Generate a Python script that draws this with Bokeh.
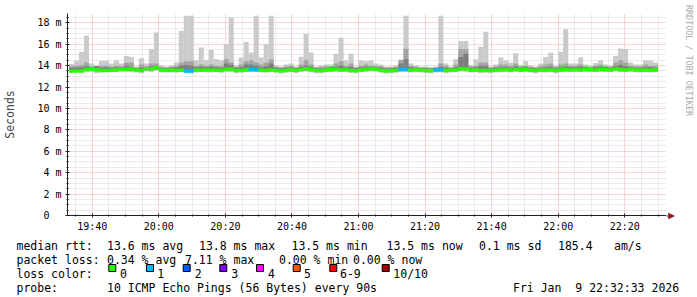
import math
from datetime import datetime, timedelta
from bokeh.plotting import figure
from bokeh.layouts import column, row
from bokeh.core.properties import value
from bokeh.models import (FixedTicker, CustomJSTickFormatter, DatetimeTickFormatter, Range1d,
                          ColumnDataSource)
from bokeh.embed import file_html
from bokeh.resources import INLINE

FONT = "DejaVu Sans Mono"

# ---------------- data ----------------
first_bar = datetime(2026, 1, 9, 19, 33, 0)
step_seconds = 90
view_start = datetime(2026, 1, 9, 19, 32, 33)
view_end = datetime(2026, 1, 9, 22, 32, 33)

# highest ping of each step (ms)
ping_max = [14.15, 14.46, 15.3, 16.8, 14.2, 14.0, 14.46, 14.46, 14.2, 14.5,
            14.2, 14.9, 14.8, 13.9, 14.7, 14.2, 15.55, 17.1, 14.0, 13.9,
            14.0, 14.3, 17.25, 18.66, 18.66, 14.5, 15.7, 14.5, 15.45, 14.6,
            14.5, 16.0, 18.5, 14.0, 14.77, 16.2, 15.23, 18.66, 14.77, 16.0,
            18.66, 14.0, 13.9, 14.1, 14.2, 13.9, 14.83, 16.95, 15.23, 13.9,
            14.0, 14.1, 14.1, 15.1, 16.6, 14.5, 15.1, 13.9, 14.5, 14.4,
            14.5, 14.2, 14.1, 13.9, 13.9, 14.0, 14.5, 18.66, 14.2, 14.0,
            13.9, 13.9, 13.85, 13.9, 18.66, 14.2, 13.9, 14.6, 16.3, 16.3,
            14.05, 14.6, 15.77, 17.16, 13.9, 14.1, 14.77, 14.5, 14.3, 15.15,
            14.05, 14.4, 14.0, 13.9, 14.2, 14.8, 15.2, 14.0, 15.3, 17.4,
            14.2, 14.2, 14.77, 14.1, 14.0, 14.25, 14.5, 14.1, 14.0, 14.9,
            15.6, 15.55, 14.3, 14.1, 14.1, 14.5, 14.5, 14.3]
# 2nd highest ping
ping_9 = [13.95, 14.0, 14.05, 14.3, 13.95, 13.95, 14.0, 14.0, 13.9, 14.0,
          13.95, 14.3, 14.3, 13.85, 14.1, 13.95, 14.2, 14.2, 13.9, 13.85,
          13.9, 14.0, 14.3, 14.4, 14.4, 14.0, 14.1, 14.0, 14.1, 14.0,
          14.0, 14.6, 14.3, 13.9, 14.1, 14.4, 14.5, 14.3, 14.1, 14.3,
          14.6, 13.9, 13.85, 13.95, 14.0, 13.85, 14.1, 14.5, 14.1, 13.85,
          13.9, 13.95, 13.95, 14.2, 14.4, 14.0, 14.2, 13.85, 14.0, 14.1,
          14.0, 14.0, 13.95, 13.85, 13.85, 13.9, 14.55, 15.58, 14.0, 13.9,
          13.85, 13.85, 13.8, 13.85, 14.2, 14.0, 13.85, 14.1, 15.55, 15.55,
          13.95, 14.0, 14.3, 14.3, 13.85, 13.95, 14.1, 14.1, 14.0, 14.2,
          13.95, 14.0, 13.9, 13.85, 13.95, 14.1, 14.2, 13.9, 14.1, 14.2,
          14.0, 14.0, 14.1, 13.95, 13.9, 14.0, 14.1, 13.95, 13.9, 14.3,
          14.5, 14.3, 14.0, 13.95, 13.95, 14.1, 14.0, 14.0]
# 3rd highest ping
ping_8 = [13.8, 13.8, 13.85, 13.95, 13.8, 13.95, 13.8, 13.85, 13.8, 13.85,
          13.85, 14.0, 13.9, 13.78, 13.8, 13.85, 13.95, 14.0, 13.8, 13.75,
          13.8, 13.85, 14.0, 14.05, 14.0, 13.85, 13.9, 13.85, 13.9, 13.85,
          13.8, 14.2, 14.05, 13.78, 13.85, 14.1, 14.1, 14.0, 13.85, 13.95,
          14.2, 13.8, 13.75, 13.8, 13.85, 13.75, 13.9, 14.0, 13.9, 13.75,
          13.75, 13.8, 13.85, 13.9, 14.0, 13.85, 13.9, 13.75, 13.85, 13.9,
          13.9, 13.85, 13.8, 13.72, 13.75, 13.78, 14.2, 14.6, 13.85, 13.8,
          13.75, 13.75, 13.7, 13.78, 13.9, 13.8, 13.75, 13.85, 14.8, 15.1,
          13.8, 13.85, 14.0, 14.0, 13.75, 13.8, 13.85, 13.85, 13.8, 13.95,
          13.8, 13.85, 13.8, 13.75, 13.8, 13.85, 13.9, 13.75, 13.85, 13.9,
          13.85, 13.85, 13.9, 13.85, 13.8, 13.85, 13.9, 13.85, 13.8, 13.95,
          14.05, 13.95, 13.85, 13.8, 13.8, 13.85, 13.85, 13.8]
# lowest ping
ping_min = [13.35, 13.4, 13.35, 13.4, 13.45, 13.3, 13.35, 13.4, 13.38, 13.4,
            13.42, 13.4, 13.38, 13.35, 13.3, 13.45, 13.4, 13.5, 13.35, 13.4,
            13.35, 13.38, 13.4, 13.3, 13.3, 13.35, 13.4, 13.38, 13.35, 13.4,
            13.35, 13.42, 13.4, 13.3, 13.35, 13.4, 13.42, 13.4, 13.35, 13.38,
            13.4, 13.35, 13.3, 13.35, 13.4, 13.32, 13.4, 13.45, 13.38, 13.3,
            13.32, 13.38, 13.4, 13.42, 13.38, 13.4, 13.32, 13.3, 13.38, 13.42,
            13.45, 13.42, 13.35, 13.3, 13.32, 13.35, 13.4, 13.4, 13.35, 13.38,
            13.35, 13.32, 13.3, 13.35, 13.38, 13.32, 13.35, 13.38, 13.45, 13.42,
            13.35, 13.38, 13.32, 13.35, 13.3, 13.35, 13.38, 13.4, 13.35, 13.42,
            13.38, 13.4, 13.35, 13.3, 13.38, 13.35, 13.38, 13.3, 13.38, 13.4,
            13.38, 13.4, 13.38, 13.42, 13.4, 13.38, 13.42, 13.4, 13.38, 13.45,
            13.4, 13.38, 13.42, 13.38, 13.35, 13.38, 13.35, 13.38]
# 2nd lowest ping
ping_2 = [13.45, 13.45, 13.42, 13.5, 13.5, 13.45, 13.42, 13.48, 13.45, 13.48,
          13.5, 13.52, 13.5, 13.45, 13.42, 13.55, 13.52, 13.6, 13.45, 13.45,
          13.45, 13.45, 13.48, 13.4, 13.4, 13.45, 13.48, 13.48, 13.45, 13.45,
          13.45, 13.5, 13.5, 13.42, 13.45, 13.48, 13.5, 13.48, 13.45, 13.45,
          13.48, 13.45, 13.4, 13.45, 13.48, 13.42, 13.5, 13.55, 13.48, 13.42,
          13.42, 13.45, 13.48, 13.5, 13.48, 13.5, 13.42, 13.4, 13.45, 13.5,
          13.55, 13.5, 13.42, 13.4, 13.42, 13.45, 13.5, 13.5, 13.45, 13.48,
          13.45, 13.42, 13.4, 13.45, 13.48, 13.42, 13.45, 13.48, 13.55, 13.52,
          13.45, 13.48, 13.42, 13.45, 13.42, 13.45, 13.48, 13.5, 13.45, 13.5,
          13.48, 13.5, 13.45, 13.42, 13.48, 13.45, 13.48, 13.42, 13.48, 13.5,
          13.48, 13.5, 13.48, 13.52, 13.5, 13.48, 13.52, 13.5, 13.48, 13.55,
          13.5, 13.48, 13.52, 13.48, 13.45, 13.48, 13.45, 13.48]
# median rtt
median_rtt = [13.5, 13.5, 13.5, 13.65, 13.65, 13.62, 13.55, 13.55, 13.58, 13.6,
              13.66, 13.68, 13.68, 13.6, 13.55, 13.72, 13.72, 13.82, 13.6, 13.55,
              13.6, 13.55, 13.58, 13.5, 13.5, 13.58, 13.58, 13.6, 13.6, 13.58,
              13.55, 13.65, 13.66, 13.55, 13.55, 13.6, 13.62, 13.62, 13.58, 13.55,
              13.6, 13.55, 13.5, 13.55, 13.6, 13.55, 13.65, 13.72, 13.62, 13.55,
              13.52, 13.6, 13.62, 13.65, 13.6, 13.62, 13.55, 13.52, 13.6, 13.65,
              13.7, 13.66, 13.55, 13.5, 13.52, 13.55, 13.65, 13.65, 13.58, 13.62,
              13.6, 13.55, 13.52, 13.6, 13.62, 13.55, 13.58, 13.6, 13.7, 13.68,
              13.58, 13.6, 13.55, 13.55, 13.55, 13.58, 13.6, 13.62, 13.58, 13.65,
              13.6, 13.62, 13.58, 13.55, 13.6, 13.58, 13.6, 13.55, 13.6, 13.62,
              13.6, 13.62, 13.6, 13.65, 13.62, 13.6, 13.65, 13.62, 13.6, 13.68,
              13.62, 13.6, 13.65, 13.6, 13.58, 13.6, 13.58, 13.6]
# lost pings per step (of 10)
lost_pings = [0] * 23 + [1, 1] + [0] * 11 + [1, 1] + [0] * 28 + [1, 1] + [0] * 5 + [1, 1] + [0] * 43

y_ticks = [0, 2, 4, 6, 8, 10, 12, 14, 16, 18]
x_tick_labels = ["19:40", "20:00", "20:20", "20:40", "21:00", "21:20", "21:40", "22:00", "22:20"]

loss_labels = ["0", "1", "2", "3", "4", "5", "6-9", "10/10"]
loss_colors = ["#26ff00", "#00b8ff", "#0059ff", "#7e00ff", "#ff00ff", "#ff5500", "#ff0000", "#a10000"]

rtt_avg, rtt_max, rtt_min, rtt_now, rtt_sd, am_s = "13.6", "13.8", "13.5", "13.5", "0.1", "185.4"
loss_avg, loss_max, loss_min, loss_now = "0.34", "7.11", "0.00", "0.00"
probe_text = "10 ICMP Echo Pings (56 Bytes) every 90s"
stamp_text = "Fri Jan\u00a0 9 22:32:33 2026"
watermark = "RRDTOOL / TOBI OETIKER"

# ---------------- helpers ----------------
EPOCH = datetime(1970, 1, 1)


def ms(dt):
    return (dt - EPOCH).total_seconds() * 1000.0


def blank(w, h, xr, yr):
    f = figure(width=w, height=h, output_backend="svg", toolbar_location=None,
               x_range=Range1d(*xr), y_range=Range1d(*yr), min_border=0,
               x_axis_location=None, y_axis_location=None)
    f.outline_line_color = None
    f.grid.visible = False
    f.background_fill_color = "white"
    f.border_fill_color = "white"
    return f


n = len(median_rtt)
left = [ms(first_bar + timedelta(seconds=step_seconds * i)) for i in range(n)]
right = [ms(first_bar + timedelta(seconds=step_seconds * (i + 1))) for i in range(n)]
loss_col = [loss_colors[k] if k < 6 else (loss_colors[6] if k < 10 else loss_colors[7]) for k in lost_pings]

src = ColumnDataSource(dict(left=left, right=right, p1=ping_min, p2=ping_2, p8=ping_8,
                            p9=ping_9, p10=ping_max, med=median_rtt, col=loss_col))

W, H = 697, 297
MAIN_W, MAIN_H = 666, 235  # main chart (frame + left axis + x labels)
FL, FT, FB = 66, 13, 20
AXIS = "#202020"
ARROW = "#8b1a1a"

p = figure(width=MAIN_W, height=MAIN_H, output_backend="svg", toolbar_location=None,
           x_axis_type="datetime",
           x_range=Range1d(ms(view_start), ms(view_end)),
           y_range=Range1d(0, 18.87),
           min_border_left=FL, min_border_right=0, min_border_top=FT, min_border_bottom=FB)
p.outline_line_color = None
p.background_fill_color = "white"
p.border_fill_color = "white"

# smoke
p.quad(left="left", right="right", bottom="p1", top="p10", source=src, fill_color="#cacaca", line_color=None)
p.quad(left="left", right="right", bottom="p2", top="p9", source=src, fill_color="#a4a4a4", line_color=None)
p.quad(left="left", right="right", bottom="med", top="p8", source=src, fill_color="#7e7e7e", line_color=None)
# median line coloured by loss
p.segment(x0="left", x1="right", y0="med", y1="med", source=src, line_color="col", line_width=3.5, line_cap="butt")

# ---- axes / ticks ----
day = datetime(2026, 1, 9)
major_x = [ms(day + timedelta(hours=int(s[:2]), minutes=int(s[3:]))) for s in x_tick_labels]
minor_x = [ms(view_start.replace(second=0, minute=35) + timedelta(minutes=5 * k)) for k in range(36)]
minor_x = [t for t in minor_x if t not in major_x]
p.xaxis.ticker = FixedTicker(ticks=major_x, minor_ticks=minor_x)
p.xaxis.formatter = DatetimeTickFormatter(minutes="%H:%M", hourmin="%H:%M", hours="%H:%M", minsec="%H:%M")

minor_y = [k * 0.5 for k in range(38) if (k * 0.5) % 2 != 0]
p.yaxis.ticker = FixedTicker(ticks=y_ticks, minor_ticks=minor_y)
p.yaxis.formatter = CustomJSTickFormatter(code="return tick == 0 ? '0\\u00a0\\u00a0' : tick + ' m';")
p.yaxis.axis_label = "Seconds"

for ax in (p.xaxis[0], p.yaxis[0]):
    ax.axis_line_color = AXIS
    ax.major_tick_line_color = AXIS
    ax.minor_tick_line_color = AXIS
    ax.major_tick_in = 2
    ax.major_tick_out = 2
    ax.minor_tick_in = 1
    ax.minor_tick_out = 1
    ax.major_label_text_font = FONT
    ax.major_label_text_font_size = "10px"
    ax.major_label_text_color = "#000000"
p.xaxis.major_label_standoff = 3
p.yaxis.major_label_standoff = 4
p.yaxis.axis_label_text_font = FONT
p.yaxis.axis_label_text_font_size = "11.5px"
p.yaxis.axis_label_text_font_style = "normal"
p.yaxis.axis_label_standoff = 17

for g in (p.xgrid[0], p.ygrid[0]):
    g.grid_line_color = "#eeaaaa"
    g.grid_line_dash = "1 1"
    g.grid_line_width = 1
    g.minor_grid_line_color = "#d6d6d6"
    g.minor_grid_line_dash = "1 1"
    g.minor_grid_line_width = 1

# ---- strip to the right: x-axis arrow + watermark ----
side_w = W - MAIN_W
side = blank(side_w, MAIN_H, (MAIN_W, W), (MAIN_H, 0))
axis_y = MAIN_H - FB + 0.5
side.segment(x0=[MAIN_W], x1=[MAIN_W + 2.5], y0=[axis_y], y1=[axis_y], line_color=AXIS, line_width=1)
side.patch(x=[MAIN_W + 2, MAIN_W + 2, MAIN_W + 8], y=[axis_y - 3, axis_y + 3, axis_y],
           fill_color=ARROW, line_color=ARROW, line_width=0.5)
side.text(x=[688], y=[60], text=[watermark], angle=-math.pi / 2, text_font=value(FONT),
          text_font_size=value("8.4px"), text_color="#aaaaaa", text_align="center", text_baseline="middle")

# ---- legend area below ----
lg = blank(W, H - MAIN_H, (0, W), (H, MAIN_H))

L1, L2, L3, L4 = 245, 259.3, 273, 287
items = [(16, L1, "median rtt:"), (106.5, L1, f"{rtt_avg} ms avg"), (198.5, L1, f"{rtt_max} ms max"),
         (291, L1, f"{rtt_min} ms min"), (386, L1, f"{rtt_now} ms now"), (478.5, L1, f"{rtt_sd} ms sd"),
         (557.5, L1, am_s), (613.5, L1, "am/s"),
         (16, L2, "packet loss:"), (106.5, L2, f"{loss_avg} % avg"), (184.5, L2, f"{loss_max} % max"),
         (278.5, L2, f"{loss_min} % min"), (352.5, L2, f"{loss_now} % now"),
         (16, L3, "loss color:"),
         (16, L4, "probe:"), (106.5, L4, probe_text), (512.5, L4, stamp_text)]
sq_x = [108.3, 146.0, 182.7, 219.3, 256.0, 292.7, 329.3, 381.7]
lab_x = [119.5, 156.8, 194.2, 230.8, 267.5, 303.5, 339.5, 392.8]
for lx, lab in zip(lab_x, loss_labels):
    items.append((lx, L3, lab))

lg.text(x=[i[0] for i in items], y=[i[1] for i in items], text=[i[2] for i in items],
        text_font=value(FONT), text_font_size=value("11.5px"), text_color="#000000",
        text_align="left", text_baseline="alphabetic")
lg.quad(left=sq_x, right=[s + 7 for s in sq_x], top=[264] * len(sq_x), bottom=[271] * len(sq_x),
        fill_color=loss_colors, line_color="#000000", line_width=1)

layout = column(row(column(p), side, spacing=0), lg, spacing=0)
open("out.html", "w").write(file_html(layout, INLINE))
